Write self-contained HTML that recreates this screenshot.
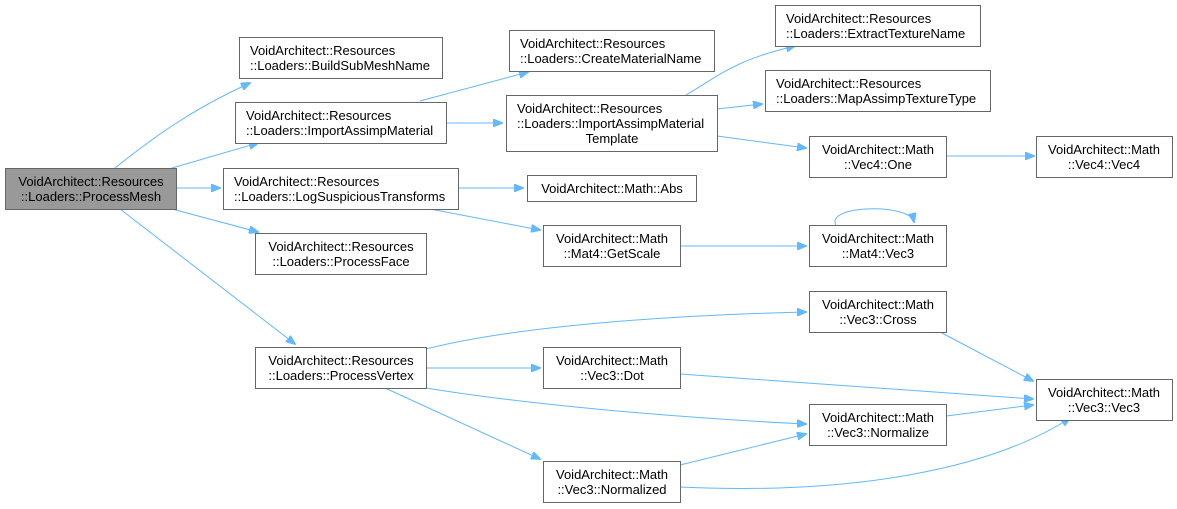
<!DOCTYPE html>
<html><head><meta charset="utf-8"><style>
html,body{margin:0;padding:0;background:#fff;}
svg{display:block;}
text{font-family:"Liberation Sans",Arial,sans-serif;font-size:13px;fill:#000;}
.b{fill:#fff;stroke:#666;stroke-width:1;}
.e{fill:none;stroke:#63b8ff;stroke-width:1;}
</style></head><body>
<svg width="1177" height="509" viewBox="0 0 1177 509" xmlns="http://www.w3.org/2000/svg">
<defs><marker id="a" markerWidth="10" markerHeight="8" refX="9" refY="4" orient="auto" markerUnits="userSpaceOnUse"><path d="M0,0 L10,4 L0,8 z" fill="#63b8ff" stroke="#63b8ff"/></marker></defs>
<g class="e" marker-end="url(#a)">
<path d="M115,168 C150,140 190,110 250,83"/>
<path d="M172,168 L258,143"/>
<path d="M176,188 L220,188"/>
<path d="M172,209 L258,232"/>
<path d="M120,209 L295,344"/>
<path d="M420,101 L528,72"/>
<path d="M446,123 L502,123"/>
<path d="M458,188 L523,188"/>
<path d="M430,209 L540,230"/>
<path d="M686,95 C720,75 735,60 795,46"/>
<path d="M717,109 L762,104"/>
<path d="M717,136 L806,148"/>
<path d="M946,156 L1034,156"/>
<path d="M680,246 L806,246"/>
<path d="M836,225 C825,205 910,203 914,222"/>
<path d="M426,349 C520,325 680,315 806,312"/>
<path d="M426,368 L540,368"/>
<path d="M426,388 C530,405 680,418 806,424"/>
<path d="M385,388 L540,459"/>
<path d="M940,332 L1033,381"/>
<path d="M680,374 L1033,399"/>
<path d="M946,416 L1033,405"/>
<path d="M680,465 L806,434"/>
<path d="M680,487 C850,495 990,470 1070,418"/>
</g>
<g>
<rect class="b" x="5.5" y="168.5" width="171" height="41" style="fill:#999"/>
<text x="91" y="186" text-anchor="middle">VoidArchitect::Resources</text><text x="91" y="201" text-anchor="middle">::Loaders::ProcessMesh</text>
<rect class="b" x="239.5" y="37.5" width="203" height="41"/>
<text x="250" y="55">VoidArchitect::Resources</text><text x="250" y="70">::Loaders::BuildSubMeshName</text>
<rect class="b" x="235.5" y="102.5" width="211" height="41"/>
<text x="246" y="120">VoidArchitect::Resources</text><text x="246" y="135">::Loaders::ImportAssimpMaterial</text>
<rect class="b" x="223.5" y="168.5" width="235" height="41"/>
<text x="234" y="186">VoidArchitect::Resources</text><text x="234" y="201">::Loaders::LogSuspiciousTransforms</text>
<rect class="b" x="255.5" y="233.5" width="171" height="41"/>
<text x="341" y="251" text-anchor="middle">VoidArchitect::Resources</text><text x="341" y="266" text-anchor="middle">::Loaders::ProcessFace</text>
<rect class="b" x="255.5" y="347.5" width="171" height="41"/>
<text x="341" y="365" text-anchor="middle">VoidArchitect::Resources</text><text x="341" y="380" text-anchor="middle">::Loaders::ProcessVertex</text>
<rect class="b" x="509.5" y="30.5" width="205" height="41"/>
<text x="520" y="48">VoidArchitect::Resources</text><text x="520" y="63">::Loaders::CreateMaterialName</text>
<rect class="b" x="506.5" y="95.5" width="211" height="56"/>
<text x="517" y="113">VoidArchitect::Resources</text><text x="517" y="128">::Loaders::ImportAssimpMaterial</text><text x="612" y="143" text-anchor="middle">Template</text>
<rect class="b" x="527.5" y="175.5" width="169" height="26"/>
<text x="612" y="193" text-anchor="middle">VoidArchitect::Math::Abs</text>
<rect class="b" x="543.5" y="225.5" width="137" height="41"/>
<text x="612" y="243" text-anchor="middle">VoidArchitect::Math</text><text x="612" y="258" text-anchor="middle">::Mat4::GetScale</text>
<rect class="b" x="775.5" y="5.5" width="205" height="41"/>
<text x="786" y="23">VoidArchitect::Resources</text><text x="786" y="38">::Loaders::ExtractTextureName</text>
<rect class="b" x="765.5" y="70.5" width="225" height="41"/>
<text x="776" y="88">VoidArchitect::Resources</text><text x="776" y="103">::Loaders::MapAssimpTextureType</text>
<rect class="b" x="809.5" y="136.5" width="137" height="41"/>
<text x="878" y="154" text-anchor="middle">VoidArchitect::Math</text><text x="878" y="169" text-anchor="middle">::Vec4::One</text>
<rect class="b" x="1036.5" y="136.5" width="136" height="41"/>
<text x="1104" y="154" text-anchor="middle">VoidArchitect::Math</text><text x="1104" y="169" text-anchor="middle">::Vec4::Vec4</text>
<rect class="b" x="809.5" y="225.5" width="137" height="41"/>
<text x="878" y="243" text-anchor="middle">VoidArchitect::Math</text><text x="878" y="258" text-anchor="middle">::Mat4::Vec3</text>
<rect class="b" x="809.5" y="291.5" width="137" height="41"/>
<text x="878" y="309" text-anchor="middle">VoidArchitect::Math</text><text x="878" y="324" text-anchor="middle">::Vec3::Cross</text>
<rect class="b" x="543.5" y="347.5" width="137" height="41"/>
<text x="612" y="365" text-anchor="middle">VoidArchitect::Math</text><text x="612" y="380" text-anchor="middle">::Vec3::Dot</text>
<rect class="b" x="1036.5" y="379.5" width="136" height="41"/>
<text x="1104" y="397" text-anchor="middle">VoidArchitect::Math</text><text x="1104" y="412" text-anchor="middle">::Vec3::Vec3</text>
<rect class="b" x="809.5" y="404.5" width="137" height="41"/>
<text x="878" y="422" text-anchor="middle">VoidArchitect::Math</text><text x="878" y="437" text-anchor="middle">::Vec3::Normalize</text>
<rect class="b" x="543.5" y="461.5" width="137" height="41"/>
<text x="612" y="479" text-anchor="middle">VoidArchitect::Math</text><text x="612" y="494" text-anchor="middle">::Vec3::Normalized</text>
</g>
</svg>
</body></html>
